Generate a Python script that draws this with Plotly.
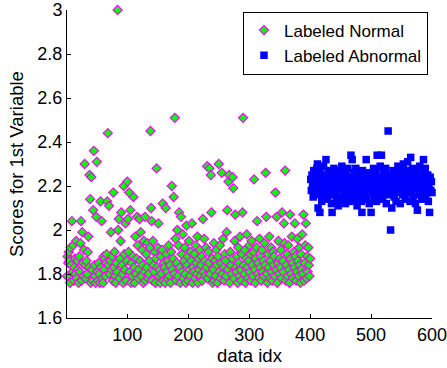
import plotly.graph_objects as go

# data idx for each group
normal_idx = list(range(1, 401))
abnormal_idx = list(range(401, 601))

normal_scores = [
    1.79, 1.88, 1.85, 1.90, 1.86, 1.76, 1.92, 1.84, 2.04, 1.81,
    1.93, 1.77, 1.83, 1.87, 1.80, 1.95, 1.78, 1.86, 1.82, 1.76,
    1.88, 1.81, 1.94, 2.04, 1.77, 1.99, 1.85, 1.79, 1.91, 2.30,
    1.84, 1.78, 1.86, 1.80, 1.90, 1.97, 1.83, 2.25, 2.14, 1.76,
    2.24, 1.82, 1.77, 2.09, 2.36, 1.84, 1.79, 1.76, 2.06, 2.31,
    1.81, 1.77, 1.85, 1.80, 1.76, 2.13, 1.83, 2.04, 1.78, 1.76,
    1.88, 1.82, 1.87, 1.79, 1.85, 1.89, 2.13, 2.44, 1.84, 2.11,
    1.80, 1.86, 1.99, 1.82, 1.88, 1.77, 2.17, 1.83, 1.90, 1.79,
    1.76, 1.85, 1.81, 3.00, 2.00, 2.05, 1.78, 1.87, 1.95, 2.08,
    1.84, 1.80, 1.76, 2.20, 1.89, 1.82, 2.03, 1.77, 1.86, 2.22,
    2.05, 1.90, 2.17, 1.81, 2.09, 1.76, 1.85, 1.79, 1.88, 2.15,
    1.83, 1.76, 1.97, 1.80, 1.87, 2.06, 1.93, 1.78, 1.82, 2.05,
    1.86, 1.99, 1.79, 1.91, 1.84, 1.76, 1.95, 1.81, 2.06, 1.77,
    1.89, 1.83, 1.94, 1.78, 1.80, 1.86, 1.92, 2.45, 2.10, 2.04,
    1.77, 1.95, 1.84, 1.81, 1.90, 1.76, 1.87, 2.28, 1.83, 1.92,
    2.03, 1.79, 1.82, 1.76, 1.88, 1.80, 1.91, 2.12, 1.77, 1.85,
    1.83, 1.76, 2.10, 1.89, 1.81, 1.78, 1.86, 1.93, 1.79, 1.84,
    1.76, 1.90, 2.20, 1.82, 1.87, 2.15, 1.80, 2.51, 1.96, 1.77,
    1.85, 2.00, 1.79, 1.93, 2.08, 1.83, 1.76, 2.06, 1.89, 1.81,
    1.98, 1.78, 1.86, 1.92, 1.80, 1.76, 2.02, 1.84, 1.88, 1.77,
    1.95, 1.82, 1.79, 1.90, 1.86, 2.03, 1.76, 1.83, 1.81, 1.89,
    1.78, 1.93, 1.85, 1.80, 1.97, 1.76, 1.87, 1.82, 1.91, 1.79,
    1.84, 1.88, 1.77, 2.05, 1.81, 1.96, 1.86, 1.79, 1.92, 1.83,
    2.29, 1.78, 1.90, 1.85, 2.28, 1.80, 2.25, 2.08, 1.87, 1.76,
    1.82, 1.94, 1.77, 1.86, 1.79, 1.91, 1.84, 1.76, 1.88, 2.30,
    1.81, 1.93, 1.78, 1.85, 2.26, 1.80, 1.96, 1.83, 1.77, 1.89,
    1.86, 1.79, 1.99, 2.09, 1.82, 2.22, 2.25, 1.76, 1.90, 1.84,
    1.80, 1.87, 2.24, 2.19, 1.78, 1.95, 2.07, 1.83, 1.81, 1.88,
    1.76, 1.92, 1.85, 1.79, 1.97, 1.82, 1.77, 1.89, 2.08, 2.51,
    1.84, 1.80, 1.91, 1.76, 1.87, 1.98, 1.83, 1.78, 1.86, 1.93,
    1.81, 1.89, 1.77, 1.95, 1.84, 1.79, 1.90, 2.23, 1.82, 1.76,
    1.87, 1.92, 2.04, 1.80, 1.85, 1.78, 1.96, 1.83, 1.88, 1.77,
    1.91, 1.81, 1.86, 1.79, 1.94, 1.84, 2.26, 2.06, 1.80, 1.76,
    1.89, 1.83, 1.97, 1.78, 1.86, 1.92, 1.81, 1.77, 1.90, 1.84,
    1.88, 1.79, 2.17, 1.82, 2.06, 1.76, 1.85, 1.95, 1.80, 1.87,
    1.83, 1.91, 1.78, 2.08, 1.86, 1.81, 2.03, 1.94, 2.27, 1.77,
    1.84, 1.89, 1.79, 1.93, 1.82, 1.76, 2.07, 1.87, 1.80, 1.97,
    1.85, 1.78, 1.90, 1.83, 2.03, 1.88, 1.77, 1.81, 1.96, 1.86,
    1.79, 1.92, 1.84, 1.76, 1.89, 1.82, 1.98, 1.80, 2.07, 1.77,
    1.85, 1.93, 2.03, 1.78, 1.88, 1.81, 1.92, 1.84, 1.79, 1.87,
]

abnormal_scores = [
    2.23, 2.18, 2.25, 2.20, 2.15, 2.27, 2.21, 2.17, 2.24, 2.19,
    2.28, 2.30, 2.10, 2.22, 2.16, 2.08, 2.26, 2.20, 2.13, 2.24,
    2.18, 2.29, 2.21, 2.15, 2.25, 2.32, 2.19, 2.23, 2.14, 2.27,
    2.20, 2.17, 2.26, 2.22, 2.12, 2.08, 2.24, 2.19, 2.28, 2.16,
    2.21, 2.25, 2.13, 2.18, 2.23, 2.11, 2.27, 2.20, 2.15, 2.24,
    2.19, 2.29, 2.22, 2.14, 2.26, 2.17, 2.21, 2.12, 2.25, 2.18,
    2.23, 2.28, 2.16, 2.20, 2.13, 2.24, 2.34, 2.19, 2.32, 2.22,
    2.17, 2.26, 2.14, 2.21, 2.28, 2.18, 2.11, 2.23, 2.20, 2.15,
    2.25, 2.19, 2.22, 2.13, 2.08, 2.27, 2.17, 2.21, 2.24, 2.16,
    2.20, 2.32, 2.14, 2.23, 2.18, 2.26, 2.12, 2.22, 2.19, 2.08,
    2.25, 2.17, 2.21, 2.28, 2.15, 2.23, 2.19, 2.27, 2.13, 2.34,
    2.20, 2.24, 2.16, 2.22, 2.29, 2.18, 2.34, 2.21, 2.14, 2.26,
    2.19, 2.23, 2.17, 2.28, 2.12, 2.22, 2.20, 2.45, 2.25, 2.16,
    2.21, 2.00, 2.24, 2.10, 2.18, 2.27, 2.22, 2.15, 2.20, 2.26,
    2.13, 2.23, 2.19, 2.29, 2.17, 2.21, 2.25, 2.12, 2.28, 2.18,
    2.22, 2.16, 2.30, 2.20, 2.24, 2.14, 2.27, 2.19, 2.23, 2.31,
    2.17, 2.21, 2.26, 2.13, 2.33, 2.22, 2.18, 2.28, 2.15, 2.24,
    2.20, 2.27, 2.12, 2.23, 2.19, 2.09, 2.25, 2.21, 2.16, 2.29,
    2.18, 2.24, 2.14, 2.26, 2.22, 2.32, 2.17, 2.20, 2.28, 2.15,
    2.23, 2.19, 2.25, 2.13, 2.21, 2.08, 2.24, 2.18, 2.22, 2.17,
]

x_ticks = [100, 200, 300, 400, 500, 600]
y_ticks = [1.6, 1.8, 2.0, 2.2, 2.4, 2.6, 2.8, 3.0]

FONT = "Liberation Sans, Arial, sans-serif"

fig = go.Figure()
fig.add_trace(go.Scatter(
    x=normal_idx, y=normal_scores, mode="markers", name="Labeled Normal",
    cliponaxis=False,
    marker=dict(symbol="diamond", size=7, color="#00FF00",
                line=dict(color="#FF00FF", width=1.2)),
))
fig.add_trace(go.Scatter(
    x=abnormal_idx, y=abnormal_scores, mode="markers", name="Labeled Abnormal",
    cliponaxis=False,
    marker=dict(symbol="square", size=7.5, color="#0000FF",
                line=dict(color="#0000FF", width=0)),
))

fig.update_layout(
    width=447, height=368,
    margin=dict(l=67, r=15, t=10, b=50, autoexpand=False),
    paper_bgcolor="white", plot_bgcolor="white",
    font=dict(family=FONT, size=18, color="black"),
    showlegend=True,
    legend=dict(x=0.989, y=0.995, xanchor="right", yanchor="top",
                bgcolor="white", bordercolor="black", borderwidth=1,
                font=dict(size=17), tracegroupgap=0),
    xaxis=dict(range=[1, 600], tickvals=x_ticks, ticks="inside", ticklen=4,
               tickcolor="black", showline=True, linecolor="black", linewidth=1,
               showgrid=False, zeroline=False, mirror=False,
               ticklabeloverflow="allow", automargin=False,
               title=dict(text="data idx", standoff=0, font=dict(size=18.5))),
    yaxis=dict(range=[1.6, 3.0], tickvals=y_ticks, ticks="inside", ticklen=4,
               tickcolor="black", showline=True, linecolor="black", linewidth=1,
               showgrid=False, zeroline=False, mirror=False,
               ticklabeloverflow="allow", automargin=False),
    annotations=[dict(text="Scores for 1st Variable", textangle=-90,
                      xref="paper", yref="paper", x=-0.14, y=0.5,
                      xanchor="center", yanchor="middle", showarrow=False,
                      font=dict(size=18.5, family=FONT, color="black"))],
)

fig.write_html("out.html")
